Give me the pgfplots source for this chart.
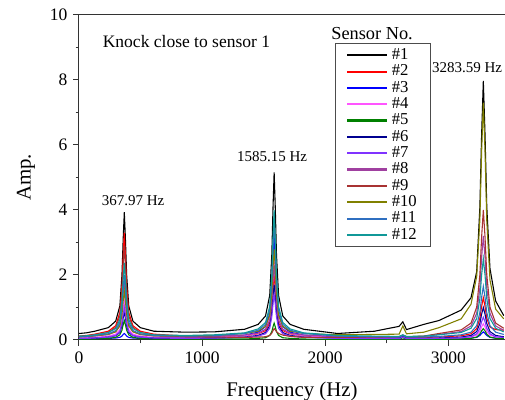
\documentclass[border=0pt]{standalone}
\usepackage{pgfplots}
\pgfplotsset{compat=1.18}
\usepackage{pgfplotstable}
\usepackage{fontspec}
\setmainfont{Liberation Serif}

\definecolor{colA}{HTML}{000000}
\definecolor{colB}{HTML}{FF0000}
\definecolor{colC}{HTML}{0000FF}
\definecolor{colD}{HTML}{FF55FF}
\definecolor{colE}{HTML}{008000}
\definecolor{colF}{HTML}{000090}
\definecolor{colG}{HTML}{8033FF}
\definecolor{colH}{HTML}{A040A0}
\definecolor{colI}{HTML}{A83232}
\definecolor{colJ}{HTML}{808000}
\definecolor{colK}{HTML}{2F6FC0}
\definecolor{colL}{HTML}{109898}

\pgfplotstableread{
f s1 s2 s3 s4 s5 s6 s7 s8 s9 s10 s11 s12
0 0.20 0.12 0.04 0.06 0.02 0.05 0.05 0.09 0.11 0.10 0.10 0.12
60 0.22 0.14 0.04 0.07 0.03 0.05 0.05 0.10 0.12 0.11 0.11 0.13
128 0.27 0.18 0.04 0.08 0.03 0.06 0.06 0.12 0.15 0.13 0.14 0.16
238 0.38 0.27 0.05 0.12 0.05 0.09 0.09 0.17 0.23 0.17 0.19 0.23
298 0.58 0.44 0.06 0.18 0.08 0.13 0.14 0.26 0.39 0.25 0.29 0.35
332 1.05 0.85 0.08 0.32 0.16 0.23 0.26 0.48 0.74 0.43 0.54 0.63
349 2.01 1.66 0.12 0.62 0.30 0.44 0.51 0.92 1.46 0.78 1.02 1.21
359 3.12 2.61 0.17 0.95 0.47 0.68 0.79 1.43 2.30 1.20 1.59 1.88
368 3.93 3.30 0.20 1.20 0.60 0.86 1.00 1.80 2.90 1.50 2.00 2.37
377 3.12 2.61 0.17 0.95 0.47 0.68 0.79 1.43 2.30 1.20 1.59 1.88
387 2.01 1.66 0.12 0.62 0.30 0.44 0.51 0.92 1.46 0.78 1.02 1.21
404 1.05 0.85 0.08 0.32 0.16 0.23 0.26 0.48 0.74 0.43 0.54 0.63
438 0.58 0.44 0.06 0.18 0.08 0.13 0.14 0.26 0.39 0.25 0.29 0.35
498 0.38 0.27 0.05 0.12 0.05 0.09 0.09 0.17 0.23 0.17 0.19 0.23
608 0.27 0.18 0.04 0.08 0.03 0.06 0.06 0.12 0.15 0.13 0.14 0.16
868 0.24 0.12 0.06 0.08 0.03 0.06 0.05 0.10 0.10 0.13 0.12 0.14
1100 0.25 0.12 0.08 0.09 0.03 0.06 0.06 0.11 0.09 0.14 0.13 0.16
1345 0.33 0.13 0.15 0.13 0.03 0.09 0.08 0.15 0.08 0.20 0.20 0.22
1455 0.48 0.19 0.24 0.20 0.05 0.14 0.12 0.21 0.09 0.27 0.30 0.34
1515 0.74 0.29 0.41 0.33 0.07 0.23 0.19 0.33 0.10 0.42 0.48 0.54
1549 1.37 0.53 0.80 0.64 0.14 0.44 0.36 0.61 0.14 0.76 0.93 1.03
1566 2.63 1.02 1.60 1.26 0.26 0.86 0.71 1.17 0.21 1.44 1.82 2.02
1576 4.10 1.59 2.53 1.98 0.41 1.35 1.11 1.83 0.29 2.23 2.85 3.17
1585 5.16 2.00 3.20 2.50 0.52 1.70 1.40 2.30 0.35 2.80 3.60 4.00
1594 4.10 1.59 2.53 1.98 0.41 1.35 1.11 1.83 0.31 2.23 2.85 3.17
1604 2.63 1.02 1.60 1.26 0.26 0.86 0.71 1.17 0.26 1.44 1.82 2.02
1621 1.37 0.53 0.80 0.64 0.14 0.44 0.36 0.61 0.20 0.76 0.93 1.03
1655 0.74 0.29 0.41 0.33 0.07 0.23 0.19 0.33 0.15 0.42 0.48 0.54
1715 0.48 0.19 0.24 0.20 0.05 0.14 0.12 0.21 0.11 0.27 0.30 0.34
1825 0.33 0.13 0.15 0.13 0.03 0.09 0.08 0.15 0.08 0.20 0.20 0.22
2100 0.20 0.09 0.08 0.07 0.02 0.06 0.05 0.11 0.08 0.16 0.12 0.14
2400 0.27 0.08 0.06 0.06 0.02 0.05 0.04 0.10 0.09 0.17 0.10 0.12
2600 0.42 0.07 0.05 0.05 0.02 0.05 0.04 0.10 0.10 0.18 0.09 0.11
2630 0.56 0.12 0.10 0.10 0.07 0.10 0.09 0.15 0.15 0.43 0.14 0.16
2660 0.32 0.07 0.05 0.05 0.02 0.05 0.04 0.10 0.10 0.19 0.09 0.11
2800 0.48 0.08 0.04 0.05 0.02 0.05 0.04 0.11 0.12 0.24 0.09 0.12
2924 0.60 0.09 0.04 0.05 0.02 0.06 0.05 0.17 0.20 0.38 0.11 0.16
3104 0.92 0.13 0.04 0.06 0.03 0.09 0.07 0.26 0.31 0.65 0.16 0.23
3184 1.30 0.19 0.06 0.09 0.05 0.14 0.10 0.43 0.52 1.10 0.24 0.36
3230 2.10 0.35 0.08 0.15 0.09 0.26 0.19 0.82 1.01 1.95 0.44 0.66
3256 4.10 0.67 0.14 0.26 0.18 0.51 0.36 1.61 2.01 3.70 0.85 1.27
3270 6.30 1.03 0.20 0.40 0.28 0.79 0.56 2.53 3.16 5.77 1.31 1.99
3284 7.97 1.30 0.25 0.50 0.35 1.00 0.70 3.20 4.00 7.30 1.65 2.50
3298 6.30 1.03 0.20 0.40 0.28 0.79 0.56 2.53 3.16 5.77 1.31 1.99
3312 4.10 0.67 0.14 0.26 0.18 0.51 0.36 1.61 2.01 3.67 0.85 1.27
3338 2.20 0.40 0.08 0.15 0.09 0.26 0.19 0.82 1.01 1.85 0.44 0.66
3384 1.20 0.32 0.06 0.09 0.05 0.14 0.10 0.43 0.52 0.95 0.24 0.36
3450 0.75 0.30 0.05 0.07 0.04 0.10 0.08 0.30 0.36 0.65 0.17 0.25
}\datatable

\begin{document}
\begin{tikzpicture}
\begin{axis}[
  scale only axis,
  width=255.6pt, height=195pt,
  xmin=0, xmax=3460, ymin=0, ymax=10,
  axis x line*=bottom, axis y line*=left,
  axis line style={black!80, line width=0.6pt},
  xtick={0,1000,2000,3000}, minor xtick={500,1500,2500},
  ytick={0,2,4,6,8,10}, minor ytick={1,3,5,7,9},
  tick align=outside,
  major tick length=3.5pt, minor tick length=2pt,
  every tick/.style={black!80, line width=0.6pt},
  /pgf/number format/assume math mode=true,
  /pgf/number format/set thousands separator={},
  tick label style={font=\fontsize{10.5}{12}\selectfont},
  xlabel={Frequency (Hz)}, ylabel={Amp.},
  label style={font=\fontsize{12.5}{14}\selectfont},
  xlabel style={yshift=-4pt},
  ylabel style={yshift=2pt},
  legend style={at={(rel axis cs:0.601,0.914)}, anchor=north west,
    draw=black!70, line width=0.6pt,
    font=\fontsize{10}{10}\selectfont, row sep=-2.3pt, inner ysep=1pt,
    inner xsep=6.5pt},
  legend cell align=left,
  legend image code/.code={\draw[#1, line width=1.25pt] (0pt,0pt) -- (24pt,0pt);},
]
\addplot[draw=colA, line width=0.65pt, no marks] table[x=f, y=s1] {\datatable};
\addplot[draw=colB, line width=0.65pt, no marks] table[x=f, y=s2] {\datatable};
\addplot[draw=colC, line width=0.65pt, no marks] table[x=f, y=s3] {\datatable};
\addplot[draw=colD, line width=0.65pt, no marks] table[x=f, y=s4] {\datatable};
\addplot[draw=colE, line width=0.65pt, no marks] table[x=f, y=s5] {\datatable};
\addplot[draw=colF, line width=0.65pt, no marks] table[x=f, y=s6] {\datatable};
\addplot[draw=colG, line width=0.65pt, no marks] table[x=f, y=s7] {\datatable};
\addplot[draw=colH, line width=0.65pt, no marks] table[x=f, y=s8] {\datatable};
\addplot[draw=colI, line width=0.65pt, no marks] table[x=f, y=s9] {\datatable};
\addplot[draw=colJ, line width=0.65pt, no marks] table[x=f, y=s10] {\datatable};
\addplot[draw=colK, line width=0.65pt, no marks] table[x=f, y=s11] {\datatable};
\addplot[draw=colL, line width=0.65pt, no marks] table[x=f, y=s12] {\datatable};
\legend{\#1,\#2,\#3,\#4,\#5,\#6,\#7,\#8,\#9,\#10,\#11,\#12}
\node[anchor=west, font=\fontsize{10.5}{12}\selectfont] at (axis cs:146,9.17) {Knock close to sensor 1};
\node[font=\fontsize{9}{10}\selectfont] at (axis cs:439,4.28) {367.97 Hz};
\node[font=\fontsize{9}{10}\selectfont] at (axis cs:1568,5.63) {1585.15 Hz};
\node[font=\fontsize{9}{10}\selectfont] at (axis cs:3152,8.37) {3283.59 Hz};
\node[font=\fontsize{11}{12}\selectfont] at (rel axis cs:0.688,0.942) {Sensor No.};
\end{axis}
\draw[black!80, line width=0.6pt] (current axis.north west) -- (current axis.north east);
\pgfresetboundingbox
\path[use as bounding box] ([shift={(-47.4pt,-36pt)}]current axis.south west) rectangle ([shift={(0pt,9pt)}]current axis.north east);
\end{tikzpicture}
\end{document}
